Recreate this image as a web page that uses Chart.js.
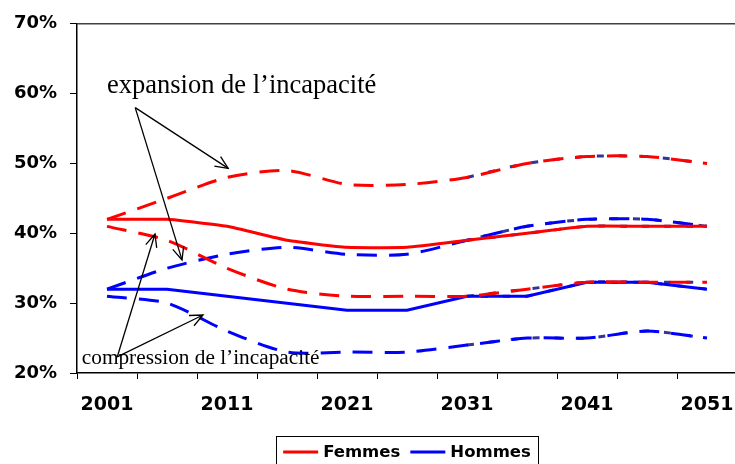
<!DOCTYPE html>
<html>
<head>
<meta charset="utf-8">
<script src="https://cdn.jsdelivr.net/npm/chart.js@4/dist/chart.umd.min.js"></script>
<style>
  html, body { margin: 0; padding: 0; background: #fff; overflow: hidden; }
  #wrap { width: 737px; height: 464px; }
</style>
</head>
<body>
<div id="wrap"><canvas id="c" width="737" height="464"></canvas></div>
<script>
// ---- Data ----
const years = ['2001','2006','2011','2016','2021','2026','2031','2036','2041','2046','2051'];
const femmesCentral     = [42, 42, 41, 39, 38, 38, 39, 40, 41, 41, 41];
const femmesExpansion   = [42, 45, 48, 49, 47, 47, 48, 50, 51, 51, 50];
const femmesCompression = [41, 39, 35, 32, 31, 31, 31, 32, 33, 33, 33];
const hommesCentral     = [32, 32, 31, 30, 29, 29, 31, 31, 33, 33, 32];
const hommesExpansion   = [32, 35, 37, 38, 37, 37, 39, 41, 42, 42, 41];
const hommesCompression = [31, 30, 26, 23, 23, 23, 24, 25, 25, 26, 25];
const yTicks = [20, 30, 40, 50, 60, 70];
const legendLabels = ['Femmes', 'Hommes'];
const expansionText = 'expansion de l\u2019incapacit\u00e9';
const compressionText = 'compression de l\u2019incapacit\u00e9';
const overlayFrom = 6; // navy overlay segments start at 2031

// ---- Styles ----
const RED = '#FF0000', BLUE = '#0000FF', NAVY = '#333399';
const DASH = [20, 12];
const FONT = '"DejaVu Sans", "Liberation Sans", Arial, sans-serif';

function overlay(arr) { return arr.map((v, i) => i >= overlayFrom ? v : null); }

const datasets = [
  { label: legendLabels[0], data: femmesCentral, borderColor: RED, tension: 0.15 },
  { label: legendLabels[0] + ' exp', data: femmesExpansion, borderColor: RED, borderDash: DASH, tension: 0.25 },
  { label: legendLabels[0] + ' comp', data: femmesCompression, borderColor: RED, borderDash: DASH, tension: 0.25 },
  { label: legendLabels[1], data: hommesCentral, borderColor: BLUE, tension: 0 },
  { label: legendLabels[1] + ' exp', data: hommesExpansion, borderColor: BLUE, borderDash: DASH, tension: 0.25 },
  { label: legendLabels[1] + ' comp', data: hommesCompression, borderColor: BLUE, borderDash: DASH, tension: 0.25 },
  { label: 'o1', data: overlay(femmesExpansion), borderColor: NAVY, borderDash: [7, 15], tension: 0.25 },
  { label: 'o2', data: overlay(hommesExpansion), borderColor: NAVY, borderDash: [7, 15], borderDashOffset: 8, tension: 0.25 },
  { label: 'o3', data: overlay(femmesCentral), borderColor: NAVY, borderDash: [7, 15], tension: 0.15 },
  { label: 'o4', data: overlay(femmesCompression), borderColor: NAVY, borderDash: [7, 15], tension: 0.25 },
  { label: 'o5', data: overlay(hommesCentral), borderColor: NAVY, borderDash: [7, 15], borderDashOffset: 8, tension: 0 },
  { label: 'o6', data: overlay(hommesCompression), borderColor: NAVY, borderDash: [7, 15], tension: 0.25 }
].map(d => Object.assign({ borderWidth: 3, pointRadius: 0, fill: false, spanGaps: false, borderCapStyle: 'butt' }, d));

// annotation anchors in data units (category index, percent)
const annotations = {
  expText:  { x: 0.0, y: 61.1 },
  expFrom:  { x: 0.47, y: 58.0 },
  expTo:    [{ x: 2.02, y: 49.3 }, { x: 1.25, y: 36.2 }],
  compText: { x: -0.42, y: 22.1 },
  compFrom: { x: 0.17, y: 22.3 },
  compTo:   [{ x: 0.80, y: 39.9 }, { x: 1.60, y: 28.3 }]
};

function arrow(ctx, x1, y1, x2, y2) {
  ctx.beginPath(); ctx.moveTo(x1, y1); ctx.lineTo(x2, y2); ctx.stroke();
  const a = Math.atan2(y2 - y1, x2 - x1), L = 14, w = 0.42;
  ctx.beginPath();
  ctx.moveTo(x2 - L * Math.cos(a - w), y2 - L * Math.sin(a - w));
  ctx.lineTo(x2, y2);
  ctx.lineTo(x2 - L * Math.cos(a + w), y2 - L * Math.sin(a + w));
  ctx.stroke();
}

const decor = {
  id: 'decor',
  afterDatasetsDraw(chart) {
    const { ctx, chartArea, scales } = chart;
    const px = p => [scales.x.getPixelForValue(p.x), scales.y.getPixelForValue(p.y)];
    ctx.save();
    // top border of plot area
    ctx.strokeStyle = '#404040'; ctx.lineWidth = 1.5;
    ctx.beginPath(); ctx.moveTo(chartArea.left, chartArea.top); ctx.lineTo(chartArea.right, chartArea.top); ctx.stroke();
    // annotations
    ctx.fillStyle = '#000'; ctx.strokeStyle = '#000'; ctx.lineWidth = 1.3;
    ctx.textBaseline = 'middle'; ctx.textAlign = 'left';
    ctx.font = '26.5px "Liberation Serif", "Times New Roman", serif';
    let [tx, ty] = px(annotations.expText); ctx.fillText(expansionText, tx, ty);
    ctx.font = '21.3px "Liberation Serif", "Times New Roman", serif';
    [tx, ty] = px(annotations.compText); ctx.fillText(compressionText, tx, ty);
    const [ex, ey] = px(annotations.expFrom);
    annotations.expTo.forEach(p => { const [x2, y2] = px(p); arrow(ctx, ex, ey, x2, y2); });
    const [cx, cy] = px(annotations.compFrom);
    annotations.compTo.forEach(p => { const [x2, y2] = px(p); arrow(ctx, cx, cy, x2, y2); });
    // legend
    ctx.font = 'bold 16.5px ' + FONT;
    const lineLen = 35, gap = 5, pad = 7, between = 10;
    const items = [{ t: legendLabels[0], c: RED }, { t: legendLabels[1], c: BLUE }];
    let total = pad * 2 + between;
    items.forEach(it => { it.w = ctx.measureText(it.t).width; total += lineLen + gap + it.w; });
    const mid = (chartArea.left + chartArea.right) / 2;
    const top = 436, h = 34;
    let x = mid - total / 2;
    ctx.lineWidth = 1; ctx.strokeStyle = '#000';
    ctx.strokeRect(Math.round(x) + 0.5, top + 0.5, Math.round(total), h);
    x += pad;
    const ly = top + 16;
    items.forEach((it) => {
      ctx.strokeStyle = it.c; ctx.lineWidth = 3;
      ctx.beginPath(); ctx.moveTo(x, ly); ctx.lineTo(x + lineLen, ly); ctx.stroke();
      x += lineLen + gap;
      ctx.fillStyle = '#000'; ctx.fillText(it.t, x, ly + 1);
      x += it.w + between;
    });
    ctx.restore();
  }
};

new Chart(document.getElementById('c'), {
  type: 'line',
  data: { labels: years, datasets },
  options: {
    responsive: false,
    animation: false,
    layout: { padding: { top: 19, left: 0, right: 0, bottom: 0 } },
    plugins: { legend: { display: false }, tooltip: { enabled: false } },
    scales: {
      x: {
        offset: true,
        grid: { offset: true, drawOnChartArea: false, drawTicks: true, tickLength: 6, tickColor: '#000', tickWidth: 1 },
        border: { color: '#000', width: 1.5 },
        ticks: {
          autoSkip: false, maxRotation: 0, padding: 15, color: '#000',
          font: { family: FONT, size: 19, weight: 'bold' },
          callback: (v, i) => (i % 2 === 0 ? years[i] : '')
        },
        afterFit: s => { s.height = 91; s.paddingLeft = 0; s.paddingRight = 0; }
      },
      y: {
        min: yTicks[0], max: yTicks[yTicks.length - 1],
        afterBuildTicks: s => { s.ticks = yTicks.map(v => ({ value: v })); },
        grid: { drawOnChartArea: false, drawTicks: true, tickLength: 7, tickColor: '#000', tickWidth: 1 },
        border: { color: '#000', width: 1.5 },
        ticks: { padding: 13, color: '#000', font: { family: FONT, size: 18, weight: 'bold' }, callback: v => v + '%' },
        afterFit: s => { s.width = 77; }
      }
    }
  },
  plugins: [decor]
});
</script>
</body>
</html>
